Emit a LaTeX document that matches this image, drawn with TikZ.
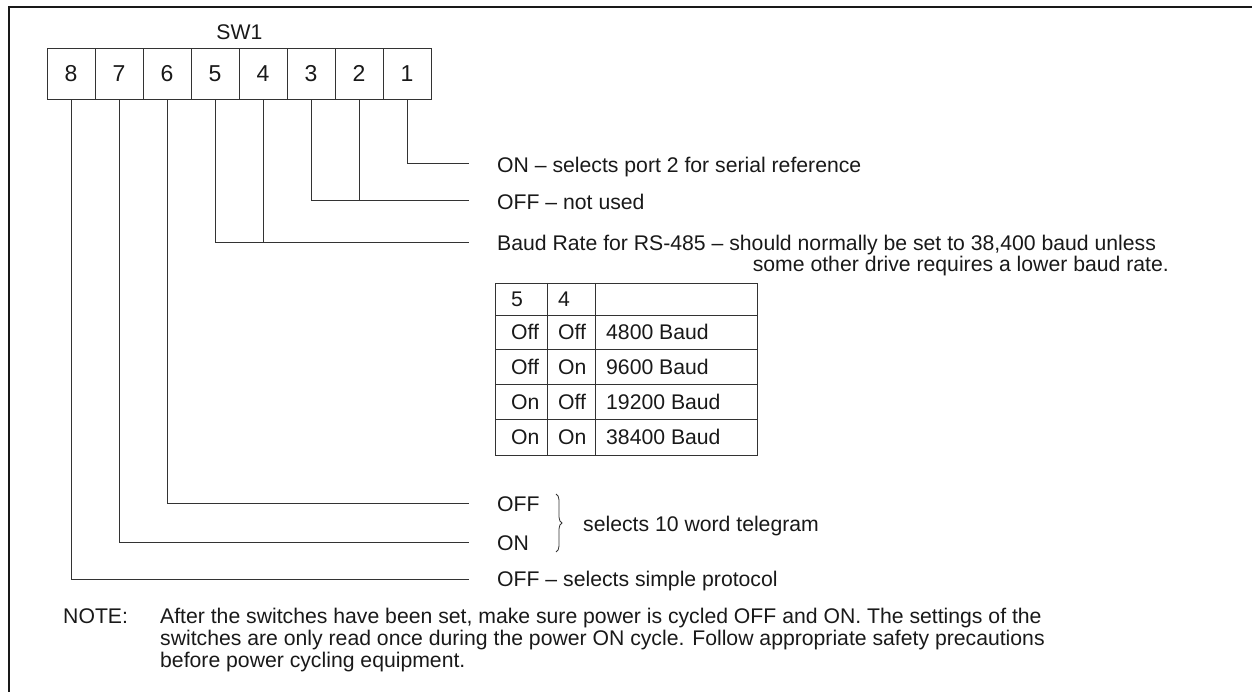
\documentclass[tikz,border=0pt]{standalone}
\usepackage{fontspec}
\setmainfont{Liberation Sans}
\usetikzlibrary{decorations.pathreplacing}
\begin{document}
\begin{tikzpicture}[x=1pt,y=-1pt,
  txt/.style={inner sep=0pt, font=\fontsize{21.2}{22}\selectfont, text=black!90},
  swcell/.style={draw=black!80, line width=0.9pt, minimum width=48pt, minimum height=51pt, inner sep=0pt, anchor=center, font=\fontsize{23}{24}\selectfont, text=black!90},
  wire/.style={draw=black!80, line width=0.9pt},
  frame/.style={line width=2.4pt, draw=black!90}]
\useasboundingbox (0,0) rectangle (1252,692);
\draw[frame] (9,692) -- (9,7) -- (1252,7);

% switch block
\foreach \i in {1,...,8} {
  \node[swcell] (s\i) at ({407-48*(\i-1)},73.5) {\i};
}
\node[txt, anchor=base] (sw) at (s5.north east |- 0,40) {SW1};

% connector ends
\coordinate (e1) at (469,163);
\coordinate (e2) at (469,200);
\coordinate (e3) at (469,242);
\coordinate (e6) at (469,503);
\coordinate (e7) at (469,542);
\coordinate (e8) at (469,579);

\draw[wire] (s1.south) |- (e1);
\draw[wire] (s3.south) |- (e2);
\draw[wire] (s2.south) -- (s2.south |- e2);
\draw[wire] (s5.south) |- (e3);
\draw[wire] (s4.south) -- (s4.south |- e3);
\draw[wire] (s6.south) |- (e6);
\draw[wire] (s7.south) |- (e7);
\draw[wire] (s8.south) |- (e8);

% labels
\node[txt, anchor=base west] (l1) at (497,173) {ON – selects port 2 for serial reference};
\node[txt, anchor=base west] (l2) at (497,210) {OFF – not used};
\node[txt, anchor=base west] (l3) at (497,251) {Baud Rate for RS-485 – should normally be set to 38,400 baud unless};
\node[txt, anchor=base east] (l3b) at (1169,272) {some other drive requires a lower baud rate.};

% baud table
\draw[wire] (495,283) rectangle (757,455);
\foreach \yy in {315,349,384,419} { \draw[wire] (495,\yy) -- (757,\yy); }
\draw[wire] (547,283) -- (547,455);
\draw[wire] (595,283) -- (595,455);

\node[txt, anchor=base west] (h5) at (511,306.5) {5};
\node[txt, anchor=base west] (h4) at (558,306.5) {4};

\node[txt, anchor=base west] (a1) at (511,339.5) {Off};
\node[txt, anchor=base west] (b1) at (558,339.5) {Off};
\node[txt, anchor=base west] (c1) at (606,339.5) {4800 Baud};

\node[txt, anchor=base west] (a2) at (511,374) {Off};
\node[txt, anchor=base west] (b2) at (558,374) {On};
\node[txt, anchor=base west] (c2) at (606,374) {9600 Baud};

\node[txt, anchor=base west] (a3) at (511,409) {On};
\node[txt, anchor=base west] (b3) at (558,409) {Off};
\node[txt, anchor=base west] (c3) at (606,409) {19200 Baud};

\node[txt, anchor=base west] (a4) at (511,444.5) {On};
\node[txt, anchor=base west] (b4) at (558,444.5) {On};
\node[txt, anchor=base west] (c4) at (606,444.5) {38400 Baud};

% telegram
\node[txt, anchor=base west] (l6) at (497,511) {OFF};
\node[txt, anchor=base west] (l7) at (497,550) {ON};
\draw[wire, line width=0.8pt, decorate, decoration={brace, amplitude=6pt}] (556,494) -- (556,552);
\node[txt, anchor=base west] (tg) at (583,531) {selects 10 word telegram};
\node[txt, anchor=base west] (l8) at (497,586) {OFF – selects simple protocol};

% note
\node[txt, anchor=base west] (nt) at (63,623) {NOTE:};
\node[txt, anchor=base west] (n1) at (160,623) {After the switches have been set, make sure power is cycled OFF and ON. The settings of the};
\node[txt, anchor=base west] (n2) at (160,645) {switches are only read once during the power ON cycle. Follow appropriate safety precautions};
\node[txt, anchor=base west] (n3) at (160,667) {before power cycling equipment.};
\end{tikzpicture}
\end{document}
